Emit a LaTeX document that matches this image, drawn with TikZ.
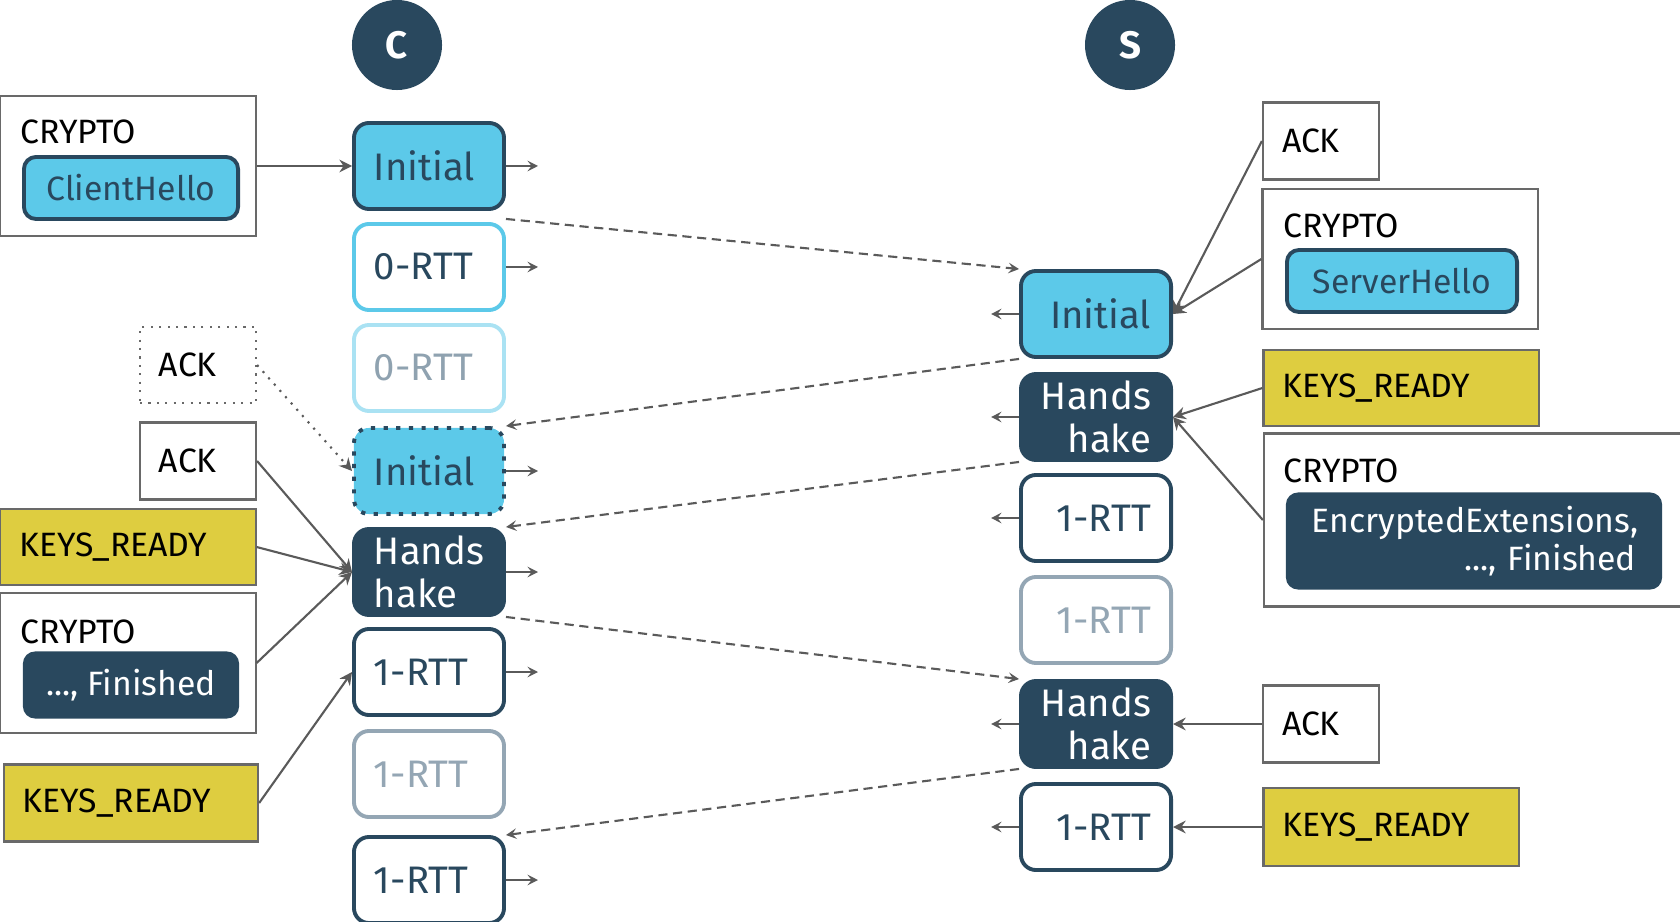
\documentclass[tikz,border=0pt]{standalone}
\usepackage{fontspec}
\setmainfont{Fira Sans}
\usetikzlibrary{arrows.meta,positioning}
\definecolor{navy}{RGB}{41,72,94}
\definecolor{sky}{RGB}{92,201,233}
\definecolor{palesky}{RGB}{170,226,243}
\definecolor{fadetext}{RGB}{143,162,176}
\definecolor{fadegray}{RGB}{148,166,180}
\definecolor{keysyellow}{RGB}{222,205,64}
\definecolor{boxgray}{RGB}{105,105,105}
\definecolor{linkgray}{RGB}{90,90,90}
\newcommand{\colfont}{\fontsize{10.9}{12.2}\selectfont}
\newcommand{\annfont}{\fontsize{9.6}{10.8}\selectfont}

\begin{document}
\begin{tikzpicture}[
  x=0.01cm, y=-0.01cm,
  peer/.style={circle, fill=navy, minimum size=0.9cm, inner sep=0pt, text=white, font=\colfont\bfseries},
  pkt/.style={rounded corners=0.15cm, line width=1.1pt, minimum height=0.86cm, inner xsep=0.2cm, inner ysep=0.05cm, text width=1.1cm, font=\colfont},
  cpkt/.style={pkt, align=left},
  spkt/.style={pkt, align=right},
  inipkt/.style={fill=sky, draw=navy, text=navy},
  zero/.style={fill=white, draw=sky, text=navy},
  zerolost/.style={fill=white, draw=palesky, text=fadetext},
  hshake/.style={fill=navy, draw=navy, text=white},
  rttpkt/.style={fill=white, draw=navy, text=navy},
  rttlost/.style={fill=white, draw=fadegray, text=fadegray},
  note/.style={draw=boxgray, line width=0.6pt, inner xsep=0.19cm, align=left, font=\annfont, text=black},
  keysbox/.style={note, fill=keysyellow},
  tag/.style={anchor=base west, inner sep=0pt, font=\annfont, text=black},
  hello/.style={rounded corners=0.12cm, line width=1.1pt, draw=navy, fill=sky, text=navy, font=\annfont, minimum height=0.62cm},
  secret/.style={rounded corners=0.12cm, fill=navy, text=white, font=\annfont},
  link/.style={draw=linkgray, line width=0.6pt, -{Stealth[length=3.6pt, width=3.6pt, inset=1.2pt]}},
  emit/.style={draw=linkgray, line width=0.6pt, -{Stealth[length=3pt, width=3pt, inset=1.2pt]}},
  flight/.style={emit, dash pattern=on 2.6pt off 1.6pt}
]
\useasboundingbox (0,0) rectangle (1680,922);

\node[peer] (cli) at (397,45) {C};
\node[peer] (srv) at (1130,45) {S};

\def\cx{429}
\node[cpkt, inipkt] (cInit) at (\cx,166) {Initial};
\node[cpkt, zero] (cZero) at (\cx,267) {0-RTT};
\node[cpkt, zerolost] (cZeroLost) at (\cx,368) {0-RTT};
\node[cpkt, inipkt, dash pattern=on 1.2pt off 2.4pt] (cInitRe) at (\cx,471) {Initial};
\node[cpkt, hshake] (cHs) at (\cx,572) {Hands\\hake};
\node[cpkt, rttpkt] (cOne) at (\cx,672) {1-RTT};
\node[cpkt, rttlost] (cOneLost) at (\cx,774) {1-RTT};
\node[cpkt, rttpkt] (cOneRe) at (\cx,880) {1-RTT};

\def\sx{1096}
\node[spkt, inipkt] (sInit) at (\sx,314) {Initial};
\node[spkt, hshake] (sHs) at (\sx,417) {Hands\\hake};
\node[spkt, rttpkt] (sOne) at (\sx,518) {1-RTT};
\node[spkt, rttlost] (sOneLost) at (\sx,620) {1-RTT};
\node[spkt, hshake] (sHsRe) at (\sx,724) {Hands\\hake};
\node[spkt, rttpkt] (sOneRe) at (\sx,827) {1-RTT};

\node[note, minimum width=2.55cm, minimum height=1.40cm] (cCrypto) at (128,166) {};
\node[tag] (cCryptoTag) at (20,144) {CRYPTO};
\node[hello, minimum width=2.14cm] (cHello) at (131,188) {ClientHello};
\node[note, text width=0.78cm, minimum height=0.76cm, dash pattern=on 0.6pt off 1.8pt] (cAckLost) at (198,365) {ACK};
\node[note, text width=0.78cm, minimum height=0.77cm] (cAck) at (198,461) {ACK};
\node[keysbox, text width=2.17cm, minimum height=0.76cm] (cKeys) at (128,547) {KEYS\_READY};
\node[note, minimum width=2.55cm, minimum height=1.40cm] (cCryptoFin) at (128,663) {};
\node[tag] (cCryptoFinTag) at (20,643) {CRYPTO};
\node[secret, minimum width=2.16cm, minimum height=0.67cm] (cFin) at (131,685) {..., Finished};
\node[keysbox, text width=2.16cm, minimum height=0.77cm] (cKeysOne) at (131,803) {KEYS\_READY};

\node[note, text width=0.78cm, minimum height=0.77cm] (sAck) at (1321,141) {ACK};
\node[note, minimum width=2.75cm, minimum height=1.40cm] (sCrypto) at (1400,259) {};
\node[tag] (sCryptoTag) at (1283,238) {CRYPTO};
\node[hello, minimum width=2.30cm] (sHello) at (1402,281) {ServerHello};
\node[keysbox, text width=2.37cm, minimum height=0.76cm] (sKeys) at (1401,388) {KEYS\_READY};
\node[note, minimum width=4.26cm, minimum height=1.73cm] (sCryptoExt) at (1477,520) {};
\node[tag] (sCryptoExtTag) at (1283,482) {CRYPTO};
\node[secret, text width=3.24cm, align=right, inner xsep=0.26cm, minimum height=0.97cm] (sExt) at (1474,541) {EncryptedExtensions,\\..., Finished};
\node[note, text width=0.78cm, minimum height=0.77cm] (sAckHs) at (1321,724) {ACK};
\node[keysbox, text width=2.17cm, minimum height=0.78cm] (sKeysOne) at (1391,827) {KEYS\_READY};

\draw[link] (cCrypto.east) -- (cInit.west);
\draw[link, dash pattern=on 0.6pt off 1.8pt] (cAckLost.east) -- (cInitRe.west);
\draw[link] (cAck.east) -- (cHs.west);
\draw[link] (cKeys.east) -- (cHs.west);
\draw[link] (cCryptoFin.east) -- (cHs.west);
\draw[link] (cKeysOne.east) -- (cOne.west);
\draw[link] (sAck.west) -- (sInit.east);
\draw[link] (sCrypto.west) -- (sInit.east);
\draw[link] (sKeys.west) -- (sHs.east);
\draw[link] (sCryptoExt.west) -- (sHs.east);
\draw[link] (sAckHs.west) -- (sHsRe.east);
\draw[link] (sKeysOne.west) -- (sOneRe.east);

\foreach \p in {cInit,cZero,cInitRe,cHs,cOne,cOneRe} {
  \coordinate (\p-out) at ([xshift=0.32cm]\p.east);
  \draw[emit] (\p.east) -- (\p-out);
}
\foreach \p in {sInit,sHs,sOne,sHsRe,sOneRe} {
  \coordinate (\p-out) at ([xshift=-0.28cm]\p.west);
  \draw[emit] (\p.west) -- (\p-out);
}

\draw[flight] ([yshift=-0.08cm]cInit.south east) -- (sInit.north west);
\draw[flight] (sInit.south west) -- (cInitRe.north east);
\draw[flight] (sHs.south west) -- (cHs.north east);
\draw[flight] (cHs.south east) -- (sHsRe.north west);
\draw[flight] (sHsRe.south west) -- (cOneRe.north east);
\end{tikzpicture}
\end{document}
